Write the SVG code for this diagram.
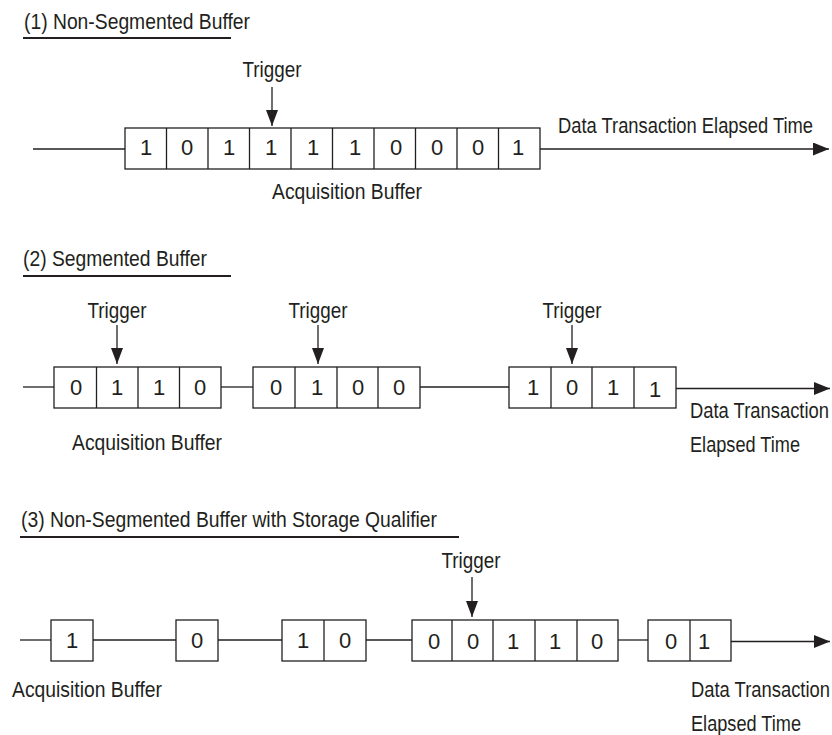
<svg xmlns="http://www.w3.org/2000/svg" width="832" height="735" viewBox="0 0 832 735">
<style>
text{font-family:"Liberation Sans",Arial,sans-serif;font-size:22px;fill:#231f20}
.c{text-anchor:middle}
.box{fill:#fff;stroke:#231f20;stroke-width:1.3}
.div{stroke:#231f20;stroke-width:1.3}
.ln{stroke:#231f20;stroke-width:1.3;fill:none}
.ul{stroke:#231f20;stroke-width:1.8}
.d{text-anchor:middle}
</style>
<defs>
<marker id="ah" markerUnits="userSpaceOnUse" markerWidth="16" markerHeight="13" refX="16" refY="6.5" orient="auto">
<path d="M0,0 L16,6.5 L0,13 z" fill="#231f20"/>
</marker>
<marker id="tah" markerUnits="userSpaceOnUse" markerWidth="16" markerHeight="12" refX="16" refY="6" orient="auto">
<path d="M0,0 L16,6 L0,12 z" fill="#231f20"/>
</marker>
</defs>
<rect width="832" height="735" fill="#fff"/>

<g id="titles">
<text x="24" y="29" textLength="226" lengthAdjust="spacingAndGlyphs">(1) Non-Segmented Buffer</text>
<line class="ul" x1="23" y1="38" x2="231" y2="38"/>
<text x="23" y="266" textLength="184" lengthAdjust="spacingAndGlyphs">(2) Segmented Buffer</text>
<line class="ul" x1="23" y1="276" x2="231" y2="276"/>
<text x="21" y="527" textLength="416" lengthAdjust="spacingAndGlyphs">(3) Non-Segmented Buffer with Storage Qualifier</text>
<line class="ul" x1="20" y1="537" x2="459" y2="537"/>
</g>

<g id="connectors">
<!-- section 1 -->
<line class="ln" x1="33" y1="149" x2="125" y2="149"/>
<line class="ln" x1="540" y1="149" x2="829" y2="149" marker-end="url(#ah)"/>
<line class="ln" x1="272" y1="87" x2="272" y2="126" marker-end="url(#tah)"/>
<!-- section 2 -->
<line class="ln" x1="23" y1="387" x2="54" y2="387"/>
<line class="ln" x1="221" y1="387" x2="253" y2="387"/>
<line class="ln" x1="420" y1="387" x2="509" y2="387"/>
<line class="ln" x1="676" y1="388.5" x2="830" y2="388.5" marker-end="url(#ah)"/>
<line class="ln" x1="117" y1="325" x2="117" y2="364" marker-end="url(#tah)"/>
<line class="ln" x1="318" y1="325" x2="318" y2="364" marker-end="url(#tah)"/>
<line class="ln" x1="572" y1="325" x2="572" y2="364" marker-end="url(#tah)"/>
<!-- section 3 -->
<line class="ln" x1="20" y1="640" x2="51" y2="640"/>
<line class="ln" x1="93" y1="640" x2="176" y2="640"/>
<line class="ln" x1="218" y1="640" x2="282" y2="640"/>
<line class="ln" x1="366" y1="640" x2="412" y2="640"/>
<line class="ln" x1="618" y1="640" x2="648" y2="640"/>
<line class="ln" x1="731" y1="641.5" x2="830" y2="641.5" marker-end="url(#ah)"/>
<line class="ln" x1="472" y1="577" x2="472" y2="617" marker-end="url(#tah)"/>
</g>

<g id="buffer1">
<rect class="box" x="125" y="128" width="415" height="41"/>
<path class="div" d="M166.5,128V169M208,128V169M249.5,128V169M291,128V169M332.5,128V169M374,128V169M415.5,128V169M457,128V169M498.5,128V169"/>
<text class="d" x="146" y="155">1</text>
<text class="d" x="187" y="155">0</text>
<text class="d" x="229" y="155">1</text>
<text class="d" x="271" y="155">1</text>
<text class="d" x="313" y="155">1</text>
<text class="d" x="355" y="155">1</text>
<text class="d" x="396" y="155">0</text>
<text class="d" x="437" y="155">0</text>
<text class="d" x="478" y="155">0</text>
<text class="d" x="518" y="155">1</text>
</g>

<g id="labels1">
<text class="c" x="272" y="77" textLength="59" lengthAdjust="spacingAndGlyphs">Trigger</text>
<text x="558" y="133" textLength="255" lengthAdjust="spacingAndGlyphs">Data Transaction Elapsed Time</text>
<text class="c" x="347" y="199" textLength="150" lengthAdjust="spacingAndGlyphs">Acquisition Buffer</text>
</g>

<g id="buffer2a">
<rect class="box" x="54" y="367" width="167" height="41"/>
<path class="div" d="M96.5,367V408M138,367V408M179.5,367V408"/>
<text class="d" x="76" y="395">0</text>
<text class="d" x="117" y="395">1</text>
<text class="d" x="159" y="395">1</text>
<text class="d" x="200" y="395">0</text>
</g>
<g id="buffer2b">
<rect class="box" x="253" y="367" width="167" height="41"/>
<path class="div" d="M295,367V408M337,367V408M378,367V408"/>
<text class="d" x="276" y="395">0</text>
<text class="d" x="317" y="395">1</text>
<text class="d" x="358" y="395">0</text>
<text class="d" x="399" y="395">0</text>
</g>
<g id="buffer2c">
<rect class="box" x="509" y="367" width="167" height="41"/>
<path class="div" d="M551,367V408M592,367V408M634,367V408"/>
<text class="d" x="533" y="395">1</text>
<text class="d" x="572" y="395">0</text>
<text class="d" x="613" y="395">1</text>
<text class="d" x="655" y="397">1</text>
</g>

<g id="labels2">
<text class="c" x="117" y="318" textLength="59" lengthAdjust="spacingAndGlyphs">Trigger</text>
<text class="c" x="318" y="318" textLength="59" lengthAdjust="spacingAndGlyphs">Trigger</text>
<text class="c" x="572" y="318" textLength="59" lengthAdjust="spacingAndGlyphs">Trigger</text>
<text x="72" y="450" textLength="150" lengthAdjust="spacingAndGlyphs">Acquisition Buffer</text>
<text x="690" y="418" textLength="139" lengthAdjust="spacingAndGlyphs">Data Transaction</text>
<text x="690" y="452" textLength="110" lengthAdjust="spacingAndGlyphs">Elapsed Time</text>
</g>

<g id="buffer3a">
<rect class="box" x="51" y="620" width="42" height="41"/>
<text class="d" x="72" y="648">1</text>
</g>
<g id="buffer3b">
<rect class="box" x="176" y="620" width="42" height="41"/>
<text class="d" x="197" y="648">0</text>
</g>
<g id="buffer3c">
<rect class="box" x="282" y="620" width="84" height="41"/>
<path class="div" d="M324,620V661"/>
<text class="d" x="303" y="648">1</text>
<text class="d" x="345" y="648">0</text>
</g>
<g id="buffer3d">
<rect class="box" x="412" y="620" width="206" height="41"/>
<path class="div" d="M452,620V661M493,620V661M535,620V661M577,620V661"/>
<text class="d" x="434" y="649">0</text>
<text class="d" x="473" y="649">0</text>
<text class="d" x="513" y="649">1</text>
<text class="d" x="555" y="649">1</text>
<text class="d" x="597" y="649">0</text>
</g>
<g id="buffer3e">
<rect class="box" x="648" y="620" width="83" height="41"/>
<path class="div" d="M690,620V661"/>
<text class="d" x="671" y="649">0</text>
<text class="d" x="704" y="649">1</text>
</g>

<g id="labels3">
<text class="c" x="471" y="568" textLength="59" lengthAdjust="spacingAndGlyphs">Trigger</text>
<text x="12" y="697" textLength="150" lengthAdjust="spacingAndGlyphs">Acquisition Buffer</text>
<text x="691" y="697" textLength="139" lengthAdjust="spacingAndGlyphs">Data Transaction</text>
<text x="691" y="731" textLength="110" lengthAdjust="spacingAndGlyphs">Elapsed Time</text>
</g>
</svg>
